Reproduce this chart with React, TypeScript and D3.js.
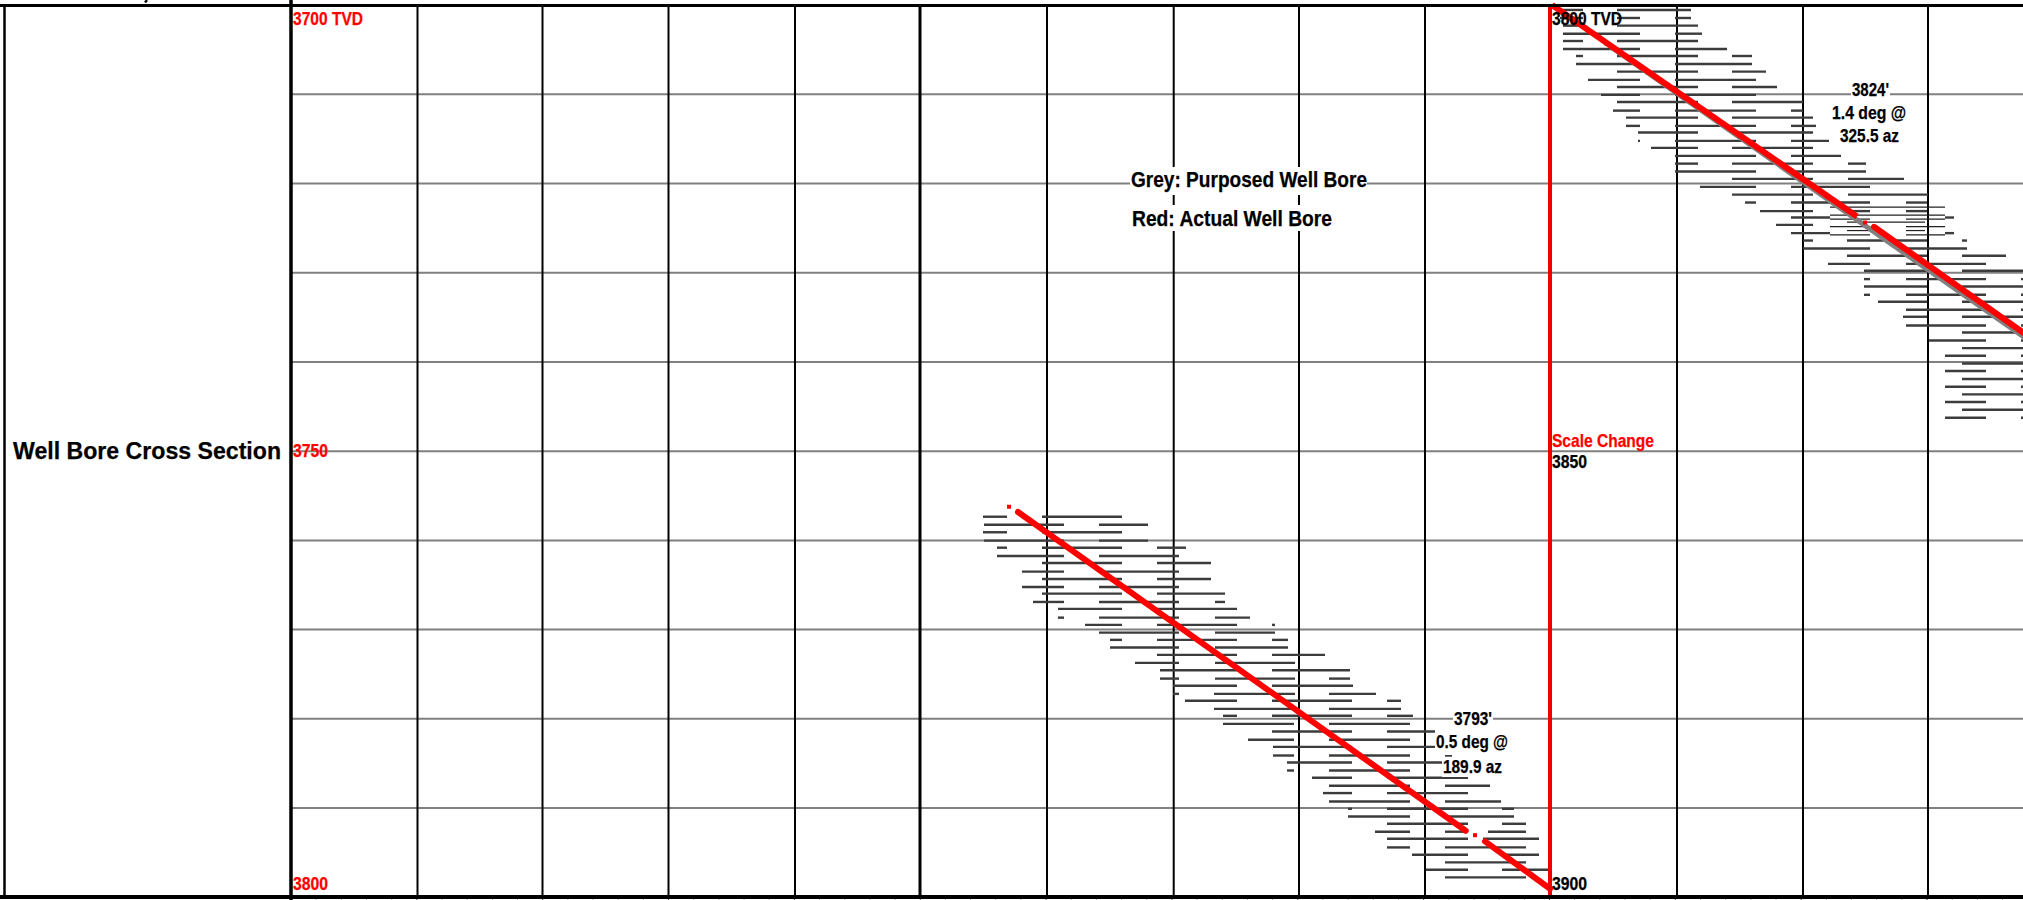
import React from "react";
import * as d3 from "d3";

const W = 2023;
const H = 900;

// Depth (ft TVD) of each logged row, and the displacement spans logged on it.
const leftDepths = [3757.35,3758.24,3759.09,3760.03,3760.82,3761.75,3762.53,3763.5,3764.32,3765.22,3765.97,3766.9,3767.68,3768.66,3769.47,3770.34,3771.15,3772.01,3772.83,3773.73,3774.55,3775.49,3776.3,3777.2,3777.98,3778.88,3779.66,3780.56,3781.42,3782.35,3783.14,3784.11,3784.89,3785.79,3786.61,3787.5,3788.32,3789.26,3790.08,3790.94,3791.76,3792.65,3793.44,3794.41,3795.23,3796.09,3796.91,3797.77];
const leftSpans = [
  [[983,1007],[1042,1122]],
  [[984,1064],[1099,1148]],
  [[983,1007],[1042,1122]],
  [[984,1064],[1099,1148]],
  [[997,1007],[1042,1122],[1157,1186]],
  [[997,1064],[1099,1179]],
  [[1042,1122],[1157,1211]],
  [[1022,1064],[1099,1179]],
  [[1042,1122],[1157,1211]],
  [[1022,1064],[1099,1179]],
  [[1042,1122],[1157,1225]],
  [[1033,1064],[1099,1179],[1215,1225]],
  [[1058,1122],[1157,1237]],
  [[1058,1064],[1099,1179],[1215,1250]],
  [[1085,1122],[1157,1237],[1272,1275]],
  [[1099,1179],[1215,1275]],
  [[1110,1122],[1157,1237],[1272,1288]],
  [[1110,1179],[1215,1288]],
  [[1157,1237],[1272,1325]],
  [[1135,1179],[1215,1295]],
  [[1160,1237],[1272,1350]],
  [[1160,1179],[1215,1295],[1329,1350]],
  [[1173,1237],[1272,1353]],
  [[1173,1179],[1214,1295],[1329,1376]],
  [[1185,1237],[1272,1352],[1387,1401]],
  [[1214,1295],[1329,1401]],
  [[1223,1237],[1272,1352],[1387,1413]],
  [[1223,1294],[1329,1410]],
  [[1272,1352],[1387,1435]],
  [[1248,1294],[1329,1410]],
  [[1273,1352],[1387,1435]],
  [[1273,1294],[1329,1410],[1445,1452]],
  [[1287,1352],[1387,1442]],
  [[1287,1294],[1329,1410]],
  [[1312,1352],[1387,1468]],
  [[1329,1410],[1445,1490]],
  [[1323,1352],[1387,1468]],
  [[1329,1410],[1445,1501]],
  [[1348,1352],[1387,1468],[1502,1514]],
  [[1348,1410],[1445,1514]],
  [[1387,1468],[1502,1526]],
  [[1375,1410],[1445,1465],[1488,1526]],
  [[1387,1468],[1483,1539]],
  [[1387,1410],[1445,1526]],
  [[1412,1468],[1502,1539]],
  [[1445,1526]],
  [[1426,1468],[1502,1549]],
  [[1445,1526]],
];

const rightDepths = [3800.6,3801.5,3802.36,3803.26,3804.08,3804.97,3805.76,3806.65,3807.51,3808.44,3809.23,3810.12,3810.91,3811.88,3812.67,3813.59,3814.34,3815.27,3816.06,3816.95,3817.82,3818.71,3819.53,3820.43,3821.29,3822.18,3823.14,3823.86,3824.68,3825.61,3826.44,3827.33,3828.15,3829.05,3829.83,3830.76,3831.59,3832.52,3833.3,3834.2,3834.98,3835.96,3836.74,3837.64,3838.49,3839.35,3840.21,3841.06,3841.96,3842.82,3843.68,3844.53,3845.4,3846.29];
const rightSpans = [
  [[1560,1583],[1617,1691]],
  [[1560,1583],[1617,1640],[1675,1691]],
  [[1563,1583],[1617,1698]],
  [[1563,1640],[1675,1702]],
  [[1563,1583],[1617,1698]],
  [[1563,1640],[1675,1727]],
  [[1576,1583],[1617,1698],[1732,1752]],
  [[1576,1640],[1675,1752]],
  [[1617,1698],[1732,1766]],
  [[1588,1640],[1675,1756]],
  [[1617,1698],[1732,1777]],
  [[1601,1640],[1675,1756]],
  [[1617,1698],[1732,1803]],
  [[1613,1640],[1675,1756],[1791,1803]],
  [[1626,1698],[1732,1813]],
  [[1626,1640],[1675,1756],[1791,1816]],
  [[1638,1698],[1732,1813]],
  [[1638,1640],[1675,1756],[1791,1829]],
  [[1651,1698],[1732,1813]],
  [[1675,1756],[1791,1841]],
  [[1675,1698],[1732,1813],[1848,1866]],
  [[1675,1756],[1791,1866]],
  [[1732,1813],[1848,1904]],
  [[1700,1756],[1791,1870]],
  [[1732,1813],[1848,1928]],
  [[1745,1756],[1791,1870],[1906,1927]],
  [[1760,1813],[1847,1870],[1906,1927]],
  [[1791,1830],[1945,1954]],
  [[1776,1813]],
  [[1791,1830],[1945,1954]],
  [[1803,1813],[1847,1927],[1962,1967]],
  [[1803,1870],[1906,1967]],
  [[1847,1927],[1962,2006]],
  [[1828,1870],[1906,1986]],
  [[1864,1927],[1962,2023]],
  [[1864,1870],[1906,1986],[2021,2023]],
  [[1864,1927],[1962,2023]],
  [[1864,1870],[1906,1986],[2021,2023]],
  [[1878,1927],[1962,2023]],
  [[1906,1986],[2021,2023]],
  [[1903,1927],[1962,2023]],
  [[1906,1986],[2021,2023]],
  [[1962,2023]],
  [[1929,1986],[2021,2023]],
  [[1962,2023]],
  [[1945,1986],[2021,2023]],
  [[1962,2023]],
  [[1945,1986],[2021,2023]],
  [[1962,2023]],
  [[1945,1986],[2021,2023]],
  [[1962,2023]],
  [[1945,1986],[2021,2023]],
  [[1962,2023]],
  [[1945,1986],[2021,2023]],
];

// The thinner overprinted rows around the 3824' survey point.
const overlayDepths = [3822.7,3823.6,3824.04,3824.38,3824.87,3825.32,3825.8];
const overlaySpans = [
  [[1830,1945]],
  [[1830,1945]],
  [[1830,1870],[1906,1945]],
  [[1847,1925]],
  [[1830,1870],[1906,1945]],
  [[1847,1870],[1906,1925]],
  [[1830,1870],[1906,1945]],
];

// Well bore traces: [displacement, depth]
const actualLeftA = [[1018,3756.82],[1465.7,3792.54]];
const actualLeftB = [[1485,3793.74],[1550,3799.04]];
const actualLeftDot = [1475,3793.04];
const actualLeftStartDot = [1009,3756.23];
const actualRightA = [[1552,3800.04],[1857,3823.75]];
const actualRightB = [[1874,3824.9],[2030,3837.3]];
const actualRightDot = [1865,3824.42];
const purposedRight = [[1611,3804.75],[2030,3837.75]];
const purposedRightDot = [1606,3804.38];

const depthTicks = [3710,3720,3730,3740,3750,3760,3770,3780,3790];
const gridColumns = [417.5,542.5,668.5,795,1047,1173.7,1299,1425,1677,1803,1928];
const heavyColumn = 920;
const scaleChangeColumn = 1550;
const minorStart = 291;
const minorCount = 70;

const FONT = "'Liberation Sans', Arial, sans-serif";

export default function App() {
  // horizontal displacement, in the reading units of the log
  const x = d3.scaleLinear().domain([291, 2023]).range([291, 2023]);
  const yL = d3.scaleLinear().domain([3700, 3800]).range([5, 897.3]);
  const yR = d3.scaleLinear().domain([3800, 3900]).range([4.6, 897]);
  const line = (yS: any) =>
    d3.line<number[]>().x((d) => x(d[0])).y((d) => yS(d[1]));

  const minor = d3.range(0, minorCount).map((i) => x(minorStart + 25.17 * i));

  const rows = (depths: number[], spans: number[][][], yS: any, pre: string, stroke: string, w: number) =>
    depths.flatMap((d, i) =>
      spans[i].map((s, j) => (
        <line key={`${pre}${i}-${j}`} x1={x(s[0])} x2={x(s[1])} y1={yS(d)} y2={yS(d)} stroke={stroke} strokeWidth={w} />
      ))
    );

  const label = (t: string, xx: number, y: number, len: number, size: number, fill = "#000") => (
    <text key={t + xx} x={xx} y={y} fontFamily={FONT} fontWeight="bold" fontSize={size} fill={fill}
      stroke={fill} strokeWidth={0.25}
      textLength={len} lengthAdjust="spacingAndGlyphs">{t}</text>
  );

  const whiteBoxes = [
    [1130, 167, 237, 28],
    [1131, 205, 203, 26],
    [1453, 710, 40, 20],
    [1435, 733, 74, 22],
    [1442, 758, 61, 19],
    [1851, 82, 39, 19],
    [1831, 103, 76, 22],
    [1839, 127, 61, 20],
  ];

  return (
    <svg width={W} height={H} viewBox={`0 0 ${W} ${H}`}
      style={{ position: "absolute", left: 0, top: 0, background: "#fff", display: "block" }}>
      <g>
        {depthTicks.map((d) => (
          <line key={d} x1={291} x2={W} y1={yL(d)} y2={yL(d)} stroke="#808080" strokeWidth={2} />
        ))}
        {gridColumns.map((c) => (
          <line key={c} x1={x(c)} x2={x(c)} y1={5} y2={896} stroke="#000" strokeWidth={2} />
        ))}
        <line x1={x(heavyColumn)} x2={x(heavyColumn)} y1={5} y2={896} stroke="#000" strokeWidth={3} />
        {minor.map((mx, i) => (
          <line key={i} x1={mx} x2={mx} y1={896} y2={900} stroke={i % 5 === 0 ? "#333" : "#999"} strokeWidth={1} />
        ))}
      </g>

      <g>
        {rows(leftDepths, leftSpans, yL, "l", "#3c3c3c", 2.4)}
        {rows(rightDepths, rightSpans, yR, "r", "#3c3c3c", 2.4)}
        {rows(overlayDepths, overlaySpans, yR, "o", "#222", 1.2)}
      </g>

      <g fill="none" strokeLinecap="round">
        <path d={line(yR)(purposedRight)!} stroke="#808080" strokeWidth={5} strokeLinecap="butt" />
        <rect x={x(purposedRightDot[0]) - 2} y={yR(purposedRightDot[1]) - 2} width={4} height={4} fill="#808080" />
        <path d={line(yL)(actualLeftA)!} stroke="#ff0000" strokeWidth={6} />
        <path d={line(yL)(actualLeftB)!} stroke="#ff0000" strokeWidth={6} />
        <path d={line(yR)(actualRightA)!} stroke="#ff0000" strokeWidth={6} strokeLinecap="butt" />
        <path d={line(yR)(actualRightB)!} stroke="#ff0000" strokeWidth={6} />
        <rect x={x(actualLeftDot[0]) - 2} y={yL(actualLeftDot[1]) - 2} width={4} height={4} fill="#ff0000" />
        <rect x={x(actualLeftStartDot[0]) - 2} y={yL(actualLeftStartDot[1]) - 2} width={4} height={4} fill="#ff0000" />
        <rect x={x(actualRightDot[0]) - 2} y={yR(actualRightDot[1]) - 2} width={4} height={4} fill="#ff0000" />
      </g>

      {/* frame */}
      <g>
        <line x1={x(scaleChangeColumn)} x2={x(scaleChangeColumn)} y1={5} y2={896} stroke="#ee0000" strokeWidth={4} />
        <line x1={0} x2={W} y1={5.5} y2={5.5} stroke="#000" strokeWidth={3} />
        <line x1={0} x2={W} y1={897} y2={897} stroke="#000" strokeWidth={4} />
        <line x1={4.5} x2={4.5} y1={4} y2={899} stroke="#000" strokeWidth={2.5} />
        <line x1={291} x2={291} y1={0} y2={900} stroke="#000" strokeWidth={3.5} />
        <line x1={147} x2={145} y1={0} y2={2.5} stroke="#111" strokeWidth={2.5} />
      </g>

      {whiteBoxes.map((b, i) => (
        <rect key={i} x={b[0]} y={b[1]} width={b[2]} height={b[3]} fill="#fff" />
      ))}

      <g>
        {label("Well Bore Cross Section", 13, 459, 268, 23)}
        {label("3700 TVD", 293, 25, 70, 18.5, "#ff0000")}
        {label("3750", 293, 457, 35, 18.5, "#ff0000")}
        {label("3800", 293, 890, 35, 18.5, "#ff0000")}
        {label("3800 TVD", 1552, 25, 70, 18.5)}
        {label("Scale Change", 1552, 447, 102, 18.5, "#ff0000")}
        {label("3850", 1552, 468, 35, 18.5)}
        {label("3900", 1552, 890, 35, 18.5)}
        {label("Grey: Purposed Well Bore", 1131, 187, 236, 22)}
        {label("Red: Actual Well Bore", 1132, 226, 200, 22)}
        {label("3793'", 1454, 725, 38, 18.5)}
        {label("0.5 deg @", 1436, 748, 72, 18.5)}
        {label("189.9 az", 1443, 773, 59, 18.5)}
        {label("3824'", 1852, 96, 37, 18.5)}
        {label("1.4 deg @", 1832, 119, 74, 18.5)}
        {label("325.5 az", 1840, 142, 59, 18.5)}
      </g>
    </svg>
  );
}
